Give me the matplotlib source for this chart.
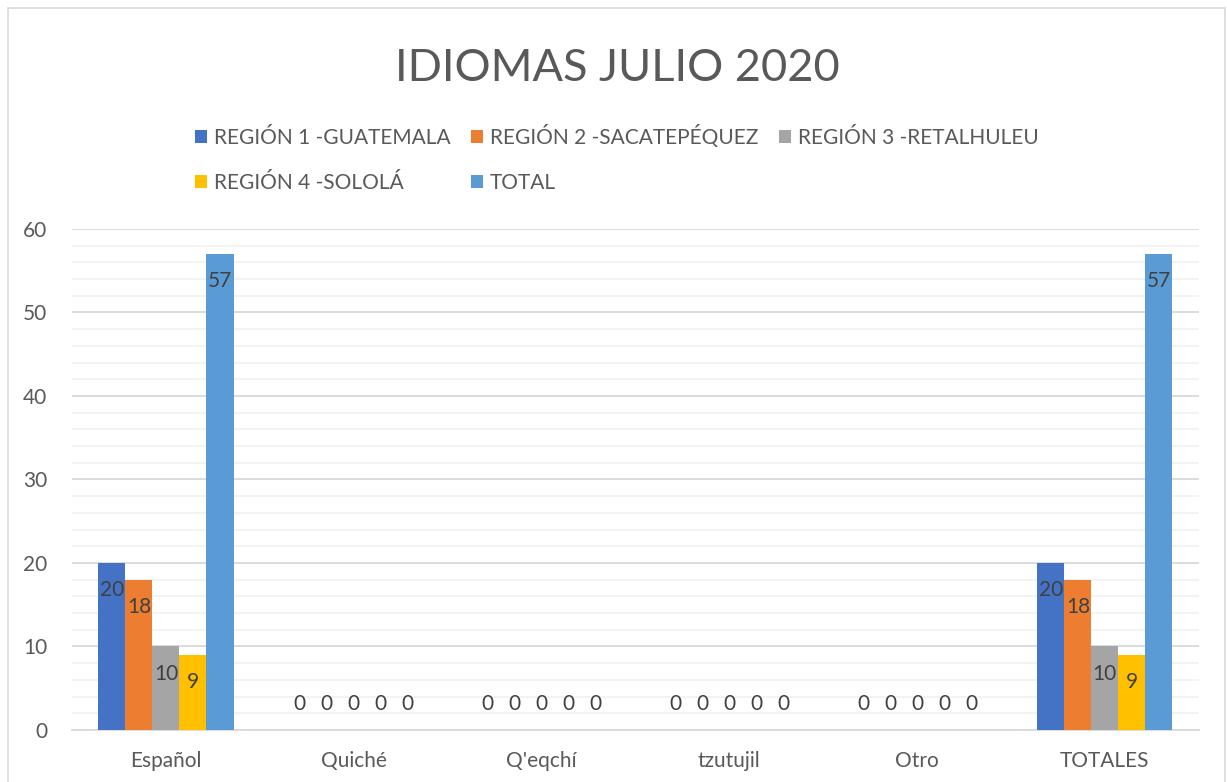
import matplotlib
matplotlib.use('Agg')
import matplotlib.pyplot as plt
from matplotlib.patches import Rectangle
from matplotlib.ticker import MultipleLocator
import numpy as np

plt.rcParams['font.family'] = ['Lato', 'DejaVu Sans']

categorias = ['Español', 'Quiché', "Q'eqchí", 'tzutujil', 'Otro', 'TOTALES']
series = ['REGIÓN 1 -GUATEMALA', 'REGIÓN 2 -SACATEPÉQUEZ', 'REGIÓN 3 -RETALHULEU',
          'REGIÓN 4 -SOLOLÁ', 'TOTAL']
region1 = [20, 0, 0, 0, 0, 20]
region2 = [18, 0, 0, 0, 0, 18]
region3 = [10, 0, 0, 0, 0, 10]
region4 = [9, 0, 0, 0, 0, 9]
total = [57, 0, 0, 0, 0, 57]
colores = ['#4472C4', '#ED7D31', '#A5A5A5', '#FFC000', '#5B9BD5']

valores = [region1, region2, region3, region4, total]

fig = plt.figure(figsize=(12.27, 7.82), dpi=100)
fig.patches.append(Rectangle((0.0065, -0.01), 0.992, 1.0, transform=fig.transFigure,
                             fill=False, edgecolor='#D9D9D9', linewidth=1.2))
ax = fig.add_axes([0.0587, 0.0665, 0.9183, 0.6407])

x = np.arange(len(categorias))
w = 0.144
barras = []
for i, (nombre, vals, col) in enumerate(zip(series, valores, colores)):
    pos = x + (i - 2) * w
    b = ax.bar(pos, vals, w, color=col, label=nombre, zorder=3)
    barras.append(b)
    for px, v in zip(pos, vals):
        if v > 0:
            ax.annotate(str(v), (px, v), xytext=(0, -19.5), textcoords='offset points',
                        ha='center', va='center', fontsize=15, color='#404040', zorder=4)
        else:
            ax.annotate(str(v), (px, v), xytext=(0, 18.5), textcoords='offset points',
                        ha='center', va='center', fontsize=15, color='#404040', zorder=4)

ax.set_xlim(-0.5, len(categorias) - 0.5)
ax.set_ylim(0, 60)
ax.yaxis.set_major_locator(MultipleLocator(10))
ax.yaxis.set_minor_locator(MultipleLocator(2))
ax.grid(axis='y', which='major', color='#D9D9D9', linewidth=1.3, zorder=0)
ax.grid(axis='y', which='minor', color='#F2F2F2', linewidth=1.3, zorder=0)
ax.set_xticks(x)
ax.set_xticklabels(categorias)
ax.tick_params(axis='both', which='both', length=0, labelsize=15, colors='#595959')
ax.tick_params(axis='y', pad=18)
ax.tick_params(axis='x', pad=15)
for s in ['top', 'right', 'left']:
    ax.spines[s].set_visible(False)
ax.spines['bottom'].set_color('#D9D9D9')
ax.spines['bottom'].set_linewidth(1.3)

fig.text(0.5035, 0.913, 'IDIOMAS JULIO 2020', ha='center', va='center',
         fontsize=32.5, color='#595959')

# orden para que la leyenda se llene por filas
orden = [0, 3, 1, 4, 2]
leg = fig.legend([barras[k] for k in orden], [series[k] for k in orden],
                 ncol=3, loc='upper left', bbox_to_anchor=(0.159, 0.84),
                 frameon=False, fontsize=15, handlelength=0.55, handleheight=0.55,
                 handletextpad=0.35, columnspacing=1.0, labelspacing=1.2,
                 borderaxespad=0, borderpad=0)
for t in leg.get_texts():
    t.set_color('#595959')

plt.savefig('out.png', dpi=100)
